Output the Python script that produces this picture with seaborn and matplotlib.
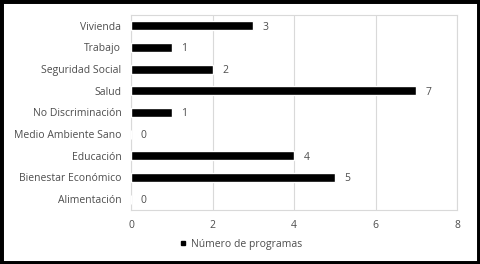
import matplotlib
matplotlib.use("Agg")
import matplotlib.pyplot as plt
import seaborn as sns
import pandas as pd
from matplotlib.patches import Rectangle
from matplotlib.lines import Line2D

categories = ["Vivienda", "Trabajo", "Seguridad Social", "Salud", "No Discriminación",
              "Medio Ambiente Sano", "Educación", "Bienestar Económico", "Alimentación"]
values = [3, 1, 2, 7, 1, 0, 4, 5, 0]
series_name = "Número de programas"
xticks = [0, 2, 4, 6, 8]

sns.set_theme(style="white")
plt.rcParams['font.family'] = ['Open Sans', 'DejaVu Sans']
txt = "#4d4d4d"
grid = "#d9d9d9"
fs = 7.5

df = pd.DataFrame({"cat": categories, "val": values})

fig = plt.figure(figsize=(4.8, 2.64), dpi=100)
ax = fig.add_axes([131/480, 1-210/264, (457-131)/480, (210-15)/264])
sns.barplot(data=df, x="val", y="cat", orient="h", color="black", width=0.42,
            saturation=1, ax=ax, zorder=3)
ax.set_xlim(0, 8)
ax.set_ylim(8.5, -0.5)
ax.set_xticks(xticks)
ax.set_xticklabels([str(t) for t in xticks])
ax.set_xlabel("")
ax.set_ylabel("")
ax.tick_params(axis="both", length=0, labelsize=fs, colors=txt, pad=7)
ax.tick_params(axis="y", pad=7)
ax.xaxis.grid(True, color=grid, linewidth=0.8, zorder=0)
for s in ax.spines.values():
    s.set_visible(True)
    s.set_color(grid)
    s.set_linewidth(0.8)
for i, v in enumerate(values):
    ax.annotate(str(v), (v, i), xytext=(7, 0), textcoords="offset points",
                va="center_baseline", ha="left", fontsize=fs, color=txt)

handle = Line2D([], [], marker="s", color="black", linestyle="none", markersize=3.5)
fig.legend([handle], [series_name], loc="center", bbox_to_anchor=(0.5, 1-244/264),
           frameon=False, fontsize=fs, labelcolor=txt, handletextpad=0.2, handlelength=1)

fig.patches.append(Rectangle((0, 0), 1, 1, transform=fig.transFigure, fill=False,
                             edgecolor="black", linewidth=5, zorder=10))
fig.savefig("out.png", dpi=100)
